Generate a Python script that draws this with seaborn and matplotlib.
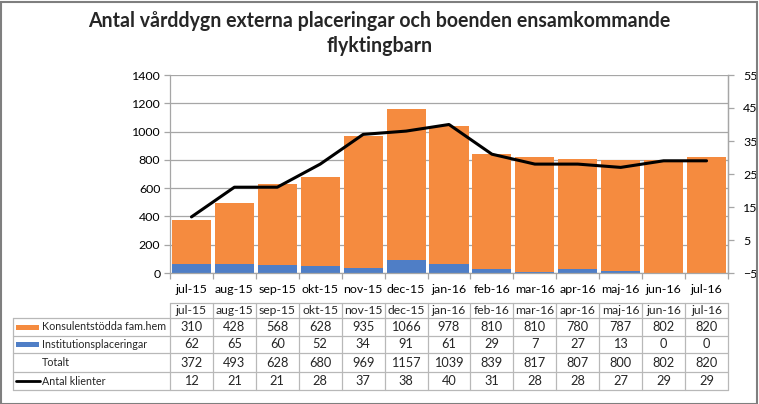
import numpy as np
import pandas as pd
import matplotlib
matplotlib.use("Agg")
import matplotlib.pyplot as plt
import seaborn as sns
from matplotlib.lines import Line2D
from matplotlib.patches import Rectangle

# ---- data ----
months = ["jul-15", "aug-15", "sep-15", "okt-15", "nov-15", "dec-15", "jan-16",
          "feb-16", "mar-16", "apr-16", "maj-16", "jun-16", "jul-16"]
konsulent = [310, 428, 568, 628, 935, 1066, 978, 810, 810, 780, 787, 802, 820]
institution = [62, 65, 60, 52, 34, 91, 61, 29, 7, 27, 13, 0, 0]
totalt = [372, 493, 628, 680, 969, 1157, 1039, 839, 817, 807, 800, 802, 820]
klienter = [12, 21, 21, 28, 37, 38, 40, 31, 28, 28, 27, 29, 29]
row_labels = ["Konsulentstödda fam.hem", "Institutionsplaceringar", "Totalt", "Antal klienter"]
title = "Antal vårddygn externa placeringar och boenden ensamkommande\nflyktingbarn"

ORANGE = "#F58B3F"
BLUE = "#4F7EC6"
GRID = "#A6A6A6"
TBL = "#B8B8B8"

sns.set_theme(style="white")
plt.rcParams["font.family"] = ["Lato", "DejaVu Sans"]

W, H = 759, 404
fig = plt.figure(figsize=(W / 100, H / 100), dpi=100)


def fx(x):
    return x / W


def fy(y):
    return 1 - y / H


L, R, T, B = 170, 728, 75, 273
ax = fig.add_axes([fx(L), fy(B), fx(R) - fx(L), fy(T) - fy(B)])

df = pd.DataFrame({"month": months, "total": totalt, "inst": institution,
                   "konsulent": konsulent, "klienter": klienter})
sns.barplot(data=df, x="month", y="total", color=ORANGE, saturation=1,
            width=0.91, linewidth=0, ax=ax, zorder=2)
sns.barplot(data=df, x="month", y="inst", color=BLUE, saturation=1,
            width=0.91, linewidth=0, ax=ax, zorder=2)

TFS = 8.9
ax.set_xlim(-0.5, len(months) - 0.5)
ax.set_ylim(0, 1400)
ax.set_yticks(np.arange(0, 1401, 200))
ax.set_xlabel("")
ax.set_ylabel("")
ax.yaxis.grid(True, color=GRID, lw=0.9, zorder=0)
ax.set_axisbelow(True)
ax.set_xticks(np.arange(len(months)))
ax.set_xticklabels(months)
ax.set_xticks(np.arange(-0.5, len(months), 1), minor=True)
ax.tick_params(axis="x", which="major", length=0, pad=8, labelsize=TFS, colors="black")
ax.tick_params(axis="x", which="minor", length=4, color=GRID, width=0.9, bottom=True)
ax.tick_params(axis="y", length=4, color=GRID, width=0.9, left=True, pad=3,
               labelsize=TFS, colors="black")
for s in ["left", "bottom", "right"]:
    ax.spines[s].set_color(GRID)
    ax.spines[s].set_linewidth(0.9)
ax.spines["top"].set_visible(False)

ax2 = ax.twinx()
sns.lineplot(data=df, x=np.arange(len(months)), y="klienter", color="black",
             lw=2.2, ax=ax2, zorder=5)
ax2.set_ylim(-5, 55)
ax2.set_yticks(np.arange(-5, 56, 10))
ax2.set_ylabel("")
ax2.tick_params(axis="y", length=4, color=GRID, width=0.9, right=True, pad=7,
                labelsize=TFS, colors="black")
for s in ["left", "bottom", "top"]:
    ax2.spines[s].set_visible(False)
ax2.spines["right"].set_color(GRID)
ax2.spines["right"].set_linewidth(0.9)
ax2.grid(False)

# ---- data table ----
n = len(months)
cw = (R - L) / n
rows_y = [303.3, 318.3, 335.7, 353.3, 372.3, 390]
TL = 13


def hline(x0, x1, y):
    fig.add_artist(Line2D([fx(x0), fx(x1)], [fy(y), fy(y)], color=TBL, lw=0.9))


def vline(x, y0, y1):
    fig.add_artist(Line2D([fx(x), fx(x)], [fy(y0), fy(y1)], color=TBL, lw=0.9))


hline(L, R, rows_y[0])
for y in rows_y[1:]:
    hline(TL, R, y)
vline(TL, rows_y[1], rows_y[-1])
for k in range(n + 1):
    vline(L + k * cw, rows_y[0], rows_y[-1])

FS = 9.2
HFS = 8.7
for k, m in enumerate(months):
    cx = L + (k + 0.5) * cw
    fig.text(fx(cx), fy((rows_y[0] + rows_y[1]) / 2), m, ha="center", va="center", fontsize=HFS)
table_vals = [konsulent, institution, totalt, klienter]
label_texts = []
for r, vals in enumerate(table_vals):
    cy = (rows_y[r + 1] + rows_y[r + 2]) / 2
    for k, v in enumerate(vals):
        cx = L + (k + 0.5) * cw
        fig.text(fx(cx), fy(cy), str(v), ha="center", va="center", fontsize=FS)
    label_texts.append(fig.text(fx(42), fy(cy), row_labels[r], ha="left",
                                va="center", fontsize=FS))

# legend keys
for r, col in [(0, ORANGE), (1, BLUE)]:
    cy = (rows_y[r + 1] + rows_y[r + 2]) / 2
    fig.add_artist(Rectangle((fx(16), fy(cy + 2.5)), fx(39) - fx(16), 5 / H,
                             color=col, lw=0))
cy = (rows_y[4] + rows_y[5]) / 2
fig.add_artist(Line2D([fx(16), fx(40)], [fy(cy), fy(cy)], color="black", lw=2))

# ---- title ----
t = fig.text(0.5, fy(11), title, ha="center", va="top", fontsize=15,
             fontweight="bold", linespacing=1.3)
fig.canvas.draw()
ext = t.get_window_extent()
t.set_fontsize(15 * 583 / ext.width)

# fit row labels inside their column
maxw = max(tx.get_window_extent().width for tx in label_texts)
scale = min(1.0, 124 / maxw)
for tx in label_texts:
    tx.set_fontsize(FS * scale)

# ---- outer border ----
fig.add_artist(Rectangle((0.5 / W, 0.5 / H), 1 - 2.5 / W, 1 - 2.5 / H,
                         fill=False, edgecolor="#7F7F7F", lw=1.5))

fig.savefig("out.png", dpi=100)
